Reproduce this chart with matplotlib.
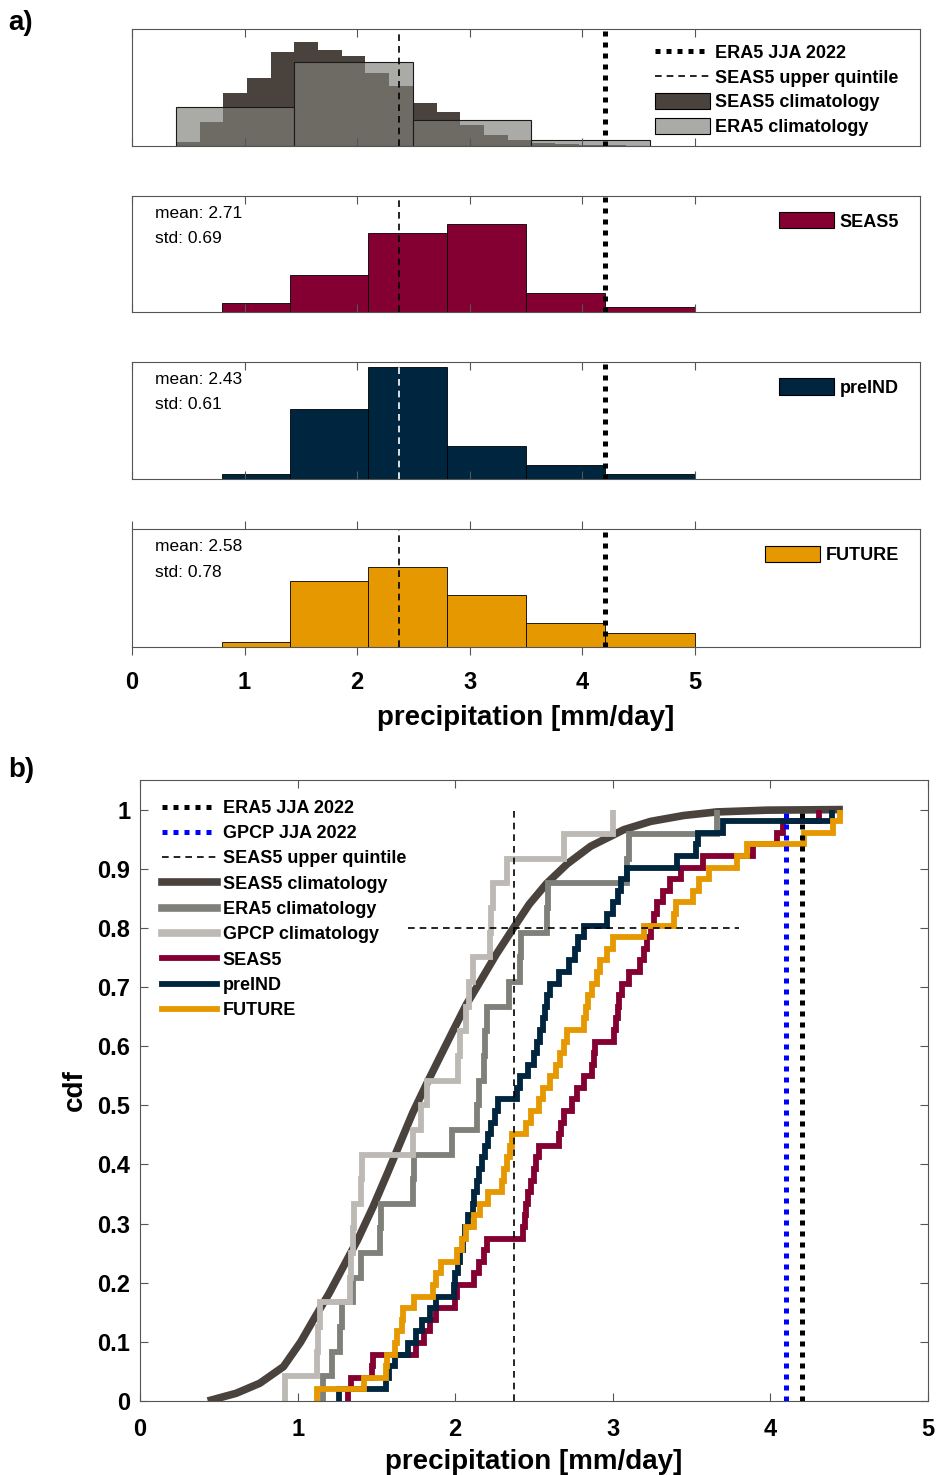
import matplotlib
matplotlib.use('Agg')
import matplotlib.pyplot as plt
import numpy as np
from matplotlib.patches import Patch
from matplotlib.lines import Line2D

plt.rcParams['font.family'] = ['Liberation Sans', 'DejaVu Sans']

# ---------------- data ----------------
# ensemble members, JJA mean precipitation [mm/day]
seas5 = [1.32, 1.34, 1.47, 1.48, 1.75, 1.80, 1.84, 1.88, 2.00, 2.01,
         2.12, 2.15, 2.18, 2.20, 2.43, 2.44, 2.45, 2.46, 2.48, 2.50,
         2.51, 2.53, 2.66, 2.67, 2.69, 2.74, 2.77, 2.82, 2.87, 2.88,
         2.89, 3.01, 3.02, 3.03, 3.04, 3.06, 3.10, 3.17, 3.20, 3.22,
         3.24, 3.26, 3.28, 3.32, 3.36, 3.43, 3.57, 3.89, 4.04, 4.08, 4.31]
preind = [1.26, 1.56, 1.58, 1.62, 1.70, 1.75, 1.79, 1.84, 1.88, 1.99,
          2.00, 2.02, 2.03, 2.05, 2.06, 2.08, 2.11, 2.12, 2.14, 2.15,
          2.17, 2.19, 2.21, 2.23, 2.25, 2.27, 2.39, 2.41, 2.46, 2.50,
          2.52, 2.54, 2.56, 2.57, 2.58, 2.60, 2.66, 2.72, 2.76, 2.78,
          2.82, 2.96, 3.00, 3.03, 3.05, 3.09, 3.41, 3.53, 3.54, 3.70, 4.39]
future = [1.12, 1.42, 1.56, 1.57, 1.62, 1.63, 1.66, 1.67, 1.74, 1.86,
          1.88, 1.91, 2.01, 2.04, 2.07, 2.12, 2.16, 2.21, 2.30, 2.31,
          2.33, 2.35, 2.36, 2.45, 2.48, 2.53, 2.56, 2.60, 2.64, 2.665,
          2.69, 2.71, 2.82, 2.83, 2.84, 2.87, 2.90, 2.92, 2.96, 3.00,
          3.20, 3.39, 3.40, 3.51, 3.55, 3.61, 3.79, 3.85, 4.21, 4.40, 4.44]

# observed climatologies (one value per year)
era5_clim = [1.16, 1.22, 1.27, 1.28, 1.35, 1.40, 1.52, 1.53, 1.73, 1.74,
             1.98, 2.14, 2.15, 2.18, 2.19, 2.20, 2.34, 2.41, 2.42, 2.58,
             2.59, 3.09, 3.10, 3.66]
gpcp_clim = [0.92, 1.12, 1.13, 1.14, 1.33, 1.34, 1.35, 1.36, 1.40, 1.41,
             1.73, 1.78, 1.82, 2.02, 2.03, 2.07, 2.09, 2.115, 2.22, 2.23,
             2.24, 2.33, 2.69, 3.00]

# SEAS5 hindcast climatology: pdf (panel a) and cdf (panel b)
clim_edges = np.linspace(0.39, 4.6, 21)
seas5_clim_pdf = [0.025, 0.149, 0.329, 0.421, 0.576, 0.638, 0.593, 0.554, 0.448, 0.372,
                  0.267, 0.211, 0.132, 0.070, 0.035, 0.021, 0.015, 0.006, 0.004, 0.002]
seas5_clim_x = [0.43, 0.61, 0.76, 0.91, 1.02, 1.10, 1.20, 1.29, 1.38, 1.48,
                1.57, 1.65, 1.73, 1.82, 1.90, 1.99, 2.07, 2.16, 2.26, 2.37,
                2.47, 2.58, 2.71, 2.86, 3.07, 3.24, 3.45, 3.66, 3.98, 4.46]
seas5_clim_cdf = [0.0, 0.013, 0.03, 0.058, 0.10, 0.137, 0.182, 0.227, 0.272, 0.329,
                  0.385, 0.436, 0.487, 0.537, 0.58, 0.628, 0.67, 0.71, 0.755, 0.80,
                  0.84, 0.875, 0.908, 0.938, 0.966, 0.98, 0.99, 0.996, 0.999, 1.0]

era5_edges = [0.39, 1.4425, 2.495, 3.5475, 4.6]
member_edges = [0.8, 1.4, 2.1, 2.8, 3.5, 4.2, 5.0]

era5_2022 = 4.2
gpcp_2022 = 4.1
seas5_q80 = 2.37
q80_level = 0.8
q80_span = [1.7, 3.8]

member_names = ['SEAS5', 'preIND', 'FUTURE']
member_data = [seas5, preind, future]
member_means = ['2.71', '2.43', '2.58']
member_stds = ['0.69', '0.61', '0.78']

c_clim = '#4a423d'
c_era5 = '#80807b'
c_gpcp = '#bdb9b4'
member_colors = ['#850032', '#00253f', '#e69800']

dotted = (0, (1, 1.2))
dashed = (0, (4, 3))
spine_col = '#555555'
leg_font = {'weight': 'bold', 'size': 13}

# ---------------- figure ----------------
fig = plt.figure(figsize=(9.38, 14.75), dpi=100)

a_left, a_width = 0.1407, 0.8401
a_boxes = [(0.90102, 0.07932), (0.78847, 0.0786), (0.67525, 0.0793), (0.56136, 0.0800)]

def style_axes(ax):
    for s in ax.spines.values():
        s.set_color(spine_col)
        s.set_linewidth(0.8)

# --- panel a, top: climatologies
ax = fig.add_axes([a_left, a_boxes[0][0], a_width, a_boxes[0][1]])
ax.stairs(seas5_clim_pdf, clim_edges, fill=True, color=c_clim, lw=0)
ax.hist(era5_clim, bins=era5_edges, density=True,
        facecolor=(0.50, 0.50, 0.48, 0.67), edgecolor='#1a1a1a', lw=0.8)
ax.axvline(seas5_q80, color='k', ls=dashed, lw=1.2)
ax.axvline(era5_2022, color='k', ls=dotted, lw=3.6)
ax.set_xlim(0, 7)
ax.set_ylim(0, 0.72)
ax.set_yticks([])
ax.set_xticks(range(6))
ax.tick_params(axis='x', direction='in', top=True, length=6, color=spine_col, labelbottom=False)
style_axes(ax)
handles = [Line2D([], [], color='k', ls=dotted, lw=3.6),
           Line2D([], [], color='k', ls=dashed, lw=1.2),
           Patch(facecolor=c_clim, edgecolor='k', lw=0.8),
           Patch(facecolor=(0.50, 0.50, 0.48, 0.67), edgecolor='k', lw=0.8)]
ax.legend(handles, ['ERA5 JJA 2022', 'SEAS5 upper quintile', 'SEAS5 climatology', 'ERA5 climatology'],
          loc='upper right', bbox_to_anchor=(0.973, 0.875), frameon=False,
          prop=leg_font, handlelength=3.05, handleheight=1.0,
          handletextpad=0.3, labelspacing=0.36, borderpad=0, borderaxespad=0)

# --- panel a: ensemble histograms
for i in range(3):
    ax = fig.add_axes([a_left, a_boxes[i + 1][0], a_width, a_boxes[i + 1][1]])
    ax.hist(member_data[i], bins=member_edges, color=member_colors[i], edgecolor='k', lw=0.6)
    qcol = 'white' if member_names[i] == 'preIND' else 'k'
    ax.axvline(seas5_q80, color=qcol, ls=dashed, lw=1.2)
    ax.axvline(era5_2022, color='k', ls=dotted, lw=3.6)
    ax.set_xlim(0, 7)
    ax.set_ylim(0, 25)
    ax.set_yticks([])
    ax.set_xticks(range(6))
    ax.text(0.029, 0.85, 'mean: ' + member_means[i], transform=ax.transAxes,
            fontsize=12.5, va='center')
    ax.text(0.029, 0.635, 'std: ' + member_stds[i], transform=ax.transAxes,
            fontsize=12.5, va='center')
    ax.legend([Patch(facecolor=member_colors[i], edgecolor='k', lw=0.8)], [member_names[i]],
              loc='upper right', bbox_to_anchor=(0.973, 0.86), frameon=False,
              prop=leg_font, handlelength=3.05, handleheight=1.0,
              handletextpad=0.3, borderpad=0, borderaxespad=0)
    style_axes(ax)
    if i < 2:
        ax.tick_params(axis='x', direction='in', top=True, length=6, color=spine_col,
                       labelbottom=False)
    else:
        ax.tick_params(axis='x', direction='out', top=True, length=6, color=spine_col,
                       labelsize=17, pad=11)
        for lab in ax.get_xticklabels():
            lab.set_fontweight('bold')
        ax.set_xlabel('precipitation [mm/day]', fontsize=20, fontweight='bold', labelpad=8)

# --- panel b: cdfs
ax = fig.add_axes([0.14925, 0.05017, 0.8401, 0.42102])
ax.plot(seas5_clim_x, seas5_clim_cdf, color=c_clim, lw=5.5, solid_capstyle='butt')
step_kw = dict(lw=4.2, solid_joinstyle='miter', solid_capstyle='butt')
ax.ecdf(era5_clim, color=c_era5, **step_kw)
ax.ecdf(gpcp_clim, color=c_gpcp, **step_kw)
for i in range(3):
    ax.ecdf(member_data[i], color=member_colors[i], **step_kw)
ax.vlines(era5_2022, 0, 1, color='k', ls=dotted, lw=3.6, zorder=5)
ax.vlines(gpcp_2022, 0, 1, color='b', ls=dotted, lw=3.6, zorder=5)
ax.vlines(seas5_q80, 0, 1, color='k', ls=dashed, lw=1.2, zorder=5)
ax.hlines(q80_level, q80_span[0], q80_span[1], color='k', ls=dashed, lw=1.2, zorder=5)
ax.set_xlim(0, 5)
ax.set_ylim(0, 1.05)
ax.set_xticks(range(6))
yt = np.round(np.arange(0, 1.01, 0.1), 1)
ax.set_yticks(yt)
ax.set_yticklabels(['0' if v == 0 else ('1' if v == 1 else f'{v:.1f}') for v in yt])
ax.tick_params(direction='in', top=True, right=True, length=6, color=spine_col,
               labelsize=17)
ax.tick_params(axis='x', pad=12)
ax.tick_params(axis='y', pad=7)
for lab in ax.get_xticklabels() + ax.get_yticklabels():
    lab.set_fontweight('bold')
ax.set_xlabel('precipitation [mm/day]', fontsize=20, fontweight='bold', labelpad=6)
ax.set_ylabel('cdf', fontsize=20, fontweight='bold', labelpad=7)
style_axes(ax)
handles = [Line2D([], [], color='k', ls=dotted, lw=3.6),
           Line2D([], [], color='b', ls=dotted, lw=3.6),
           Line2D([], [], color='k', ls=dashed, lw=1.2),
           Line2D([], [], color=c_clim, lw=5.5),
           Line2D([], [], color=c_era5, lw=5.5),
           Line2D([], [], color=c_gpcp, lw=5.5),
           Line2D([], [], color=member_colors[0], lw=4.2),
           Line2D([], [], color=member_colors[1], lw=4.2),
           Line2D([], [], color=member_colors[2], lw=4.2)]
labels = ['ERA5 JJA 2022', 'GPCP JJA 2022', 'SEAS5 upper quintile', 'SEAS5 climatology',
          'ERA5 climatology', 'GPCP climatology'] + member_names
ax.legend(handles, labels, loc='upper left', bbox_to_anchor=(0.028, 0.968), frameon=False,
          prop=leg_font, handlelength=3.05, handletextpad=0.3,
          labelspacing=0.46, borderpad=0, borderaxespad=0)

fig.text(0.009, 0.993, 'a)', fontsize=20, fontweight='bold', va='top')
fig.text(0.009, 0.487, 'b)', fontsize=20, fontweight='bold', va='top')

fig.savefig('out.png', dpi=100)
